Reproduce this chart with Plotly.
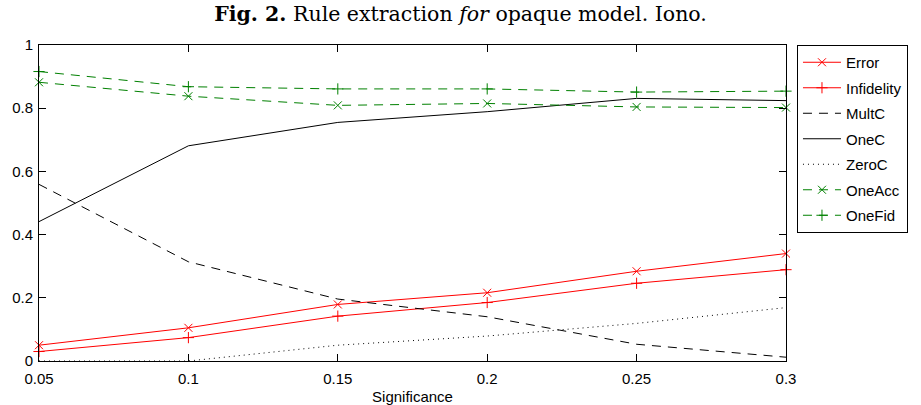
import plotly.graph_objects as go

significance = [0.05, 0.10, 0.15, 0.20, 0.25, 0.30]
error = [0.050, 0.105, 0.179, 0.216, 0.284, 0.340]
infidelity = [0.030, 0.074, 0.142, 0.185, 0.246, 0.289]
multc = [0.559, 0.314, 0.196, 0.140, 0.053, 0.012]
onec = [0.441, 0.681, 0.755, 0.789, 0.831, 0.824]
zeroc = [0.000, 0.000, 0.050, 0.079, 0.119, 0.169]
oneacc = [0.882, 0.838, 0.809, 0.815, 0.804, 0.802]
onefid = [0.916, 0.868, 0.861, 0.861, 0.851, 0.854]

x_ticks = [0.05, 0.1, 0.15, 0.2, 0.25, 0.3]
x_tick_labels = ["0.05", "0.1", "0.15", "0.2", "0.25", "0.3"]
y_ticks = [0, 0.2, 0.4, 0.6, 0.8, 1]
y_tick_labels = ["0", "0.2", "0.4", "0.6", "0.8", "1"]

RED = "#ff0000"
GREEN = "#008000"
BLACK = "#000000"

series = [
    ("Error", error, RED, "solid", "x-thin"),
    ("Infidelity", infidelity, RED, "solid", "cross-thin"),
    ("MultC", multc, BLACK, "9px,7px", None),
    ("OneC", onec, BLACK, "solid", None),
    ("ZeroC", zeroc, BLACK, "1px,4px", None),
    ("OneAcc", oneacc, GREEN, "9px,7px", "x-thin"),
    ("OneFid", onefid, GREEN, "9px,7px", "cross-thin"),
]

fig = go.Figure()
for name, vals, color, dash, sym in series:
    mode = "lines+markers" if sym else "lines"
    kw = {}
    if sym:
        kw["marker"] = dict(symbol=sym, size=8, color=color,
                            line=dict(color=color, width=1))
    fig.add_trace(go.Scatter(
        x=significance, y=vals, name=name, mode=mode, legendgroup=name,
        line=dict(color=color, width=1, dash=dash), cliponaxis=False, **kw))

axis_common = dict(
    showline=True, linecolor="black", linewidth=1, mirror="ticks",
    ticks="inside", ticklen=7, tickcolor="black", tickwidth=1,
    showgrid=False, zeroline=False, automargin=False,
    tickfont=dict(family="Liberation Sans", size=15, color="black"),
)

fig.update_layout(
    width=921, height=405,
    margin=dict(l=39, r=135, t=45, b=44),
    paper_bgcolor="white", plot_bgcolor="white",
    title=dict(
        text="<b>Fig. 2.</b> Rule extraction <i>for</i> opaque model. Iono.",
        x=0.5, xref="container", xanchor="center",
        y=0.965, yref="container", yanchor="middle",
        font=dict(family="DejaVu Serif", size=20.5, color="black"),
    ),
    xaxis=dict(range=[0.05, 0.3], tickvals=x_ticks, ticktext=x_tick_labels,
               ticklabelstandoff=4,
               title=dict(text="Significance", standoff=8,
                          font=dict(family="Liberation Sans", size=15, color="black")),
               **axis_common),
    yaxis=dict(range=[0, 1], tickvals=y_ticks, ticktext=y_tick_labels,
               ticklabelstandoff=2,
               **axis_common),
    legend=dict(
        x=1.0147, xanchor="left", y=1.0, yanchor="top",
        bordercolor="black", borderwidth=1, bgcolor="white",
        font=dict(family="Liberation Sans", size=15, color="black"),
        traceorder="grouped", tracegroupgap=3, itemwidth=38,
    ),
    showlegend=True,
)

fig.write_html(
    "out.html",
    config={"displayModeBar": False},
    post_script="document.body.style.margin='0';document.body.style.overflow='hidden';",
)
